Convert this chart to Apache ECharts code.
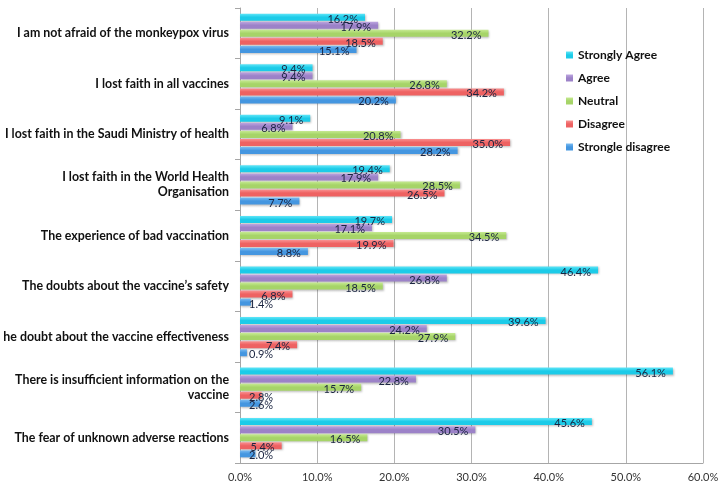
<!DOCTYPE html>
<html>
<head>
<meta charset="utf-8">
<script src="https://cdn.jsdelivr.net/npm/echarts@6/dist/echarts.min.js"></script>
<style>
html,body{margin:0;padding:0;background:#fff;}
#chart{width:725px;height:489px;}
</style>
</head>
<body>
<div id="chart"></div>
<script>
// Categories, bottom to top
const categories = [
  "The fear of unknown adverse reactions",
  "There is insufficient information on the\nvaccine",
  "he doubt about the vaccine effectiveness",
  "The doubts about the vaccine\u2019s safety",
  "The experience of bad vaccination",
  "I lost faith in the World Health\nOrganisation",
  "I lost faith in the Saudi Ministry of health",
  "I lost faith in all vaccines",
  "I am not afraid of the monkeypox virus"
];
const stronglyAgree   = [45.6, 56.1, 39.6, 46.4, 19.7, 19.4, 9.1, 9.4, 16.2];
const agree           = [30.5, 22.8, 24.2, 26.8, 17.1, 17.9, 6.8, 9.4, 17.9];
const neutral         = [16.5, 15.7, 27.9, 18.5, 34.5, 28.5, 20.8, 26.8, 32.2];
const disagree        = [5.4, 2.8, 7.4, 6.8, 19.9, 26.5, 35.0, 34.2, 18.5];
const strongDisagree  = [2.0, 2.6, 0.9, 1.4, 8.8, 7.7, 28.2, 20.2, 15.1];
const legendNames = ["Strongly Agree", "Agree", "Neutral", "Disagree", "Strongle disagree"];
const xTicks = [0, 10, 20, 30, 40, 50, 60];

const colors = {
  "Strongly Agree": ["#5FE6F8", "#1CCBE8"],
  "Agree": ["#BDA6E0", "#9C82C8"],
  "Neutral": ["#C6EA92", "#A6D468"],
  "Disagree": ["#F99292", "#EE6262"],
  "Strongle disagree": ["#7BBCF2", "#4496E0"]
};

function makeSeries(name, values) {
  const c = colors[name];
  return {
    name: name,
    type: 'bar',
    barWidth: 7,
    barGap: '15%',
    itemStyle: {
      color: new echarts.graphic.LinearGradient(0, 0, 0, 1, [
        {offset: 0, color: c[0]}, {offset: 0.5, color: c[1]}, {offset: 1, color: c[1]}
      ]),
      shadowColor: 'rgba(0,0,0,0.25)',
      shadowBlur: 2,
      shadowOffsetX: 1,
      shadowOffsetY: 1
    },
    data: values.map(v => {
      const small = v < 5;
      return {
        value: v,
        label: small ? {position: 'insideLeft', distance: 9} : {position: 'insideRight', distance: 7}
      };
    }),
    label: {
      show: true,
      formatter: p => p.value.toFixed(1) + '%',
      fontFamily: 'Lato',
      fontSize: 11,
      color: '#1A2440',
      offset: [0, 2]
    }
  };
}

const chart = echarts.init(document.getElementById('chart'));
chart.setOption({
  animation: false,
  backgroundColor: '#fff',
  grid: {left: 240, right: 22, top: 8, bottom: 26, containLabel: false},
  legend: {
    data: legendNames,
    orient: 'vertical',
    left: 561,
    top: 44,
    itemWidth: 7,
    itemHeight: 7,
    itemGap: 11,
    icon: 'rect',
    textStyle: {fontFamily: 'Lato', fontWeight: 'bold', fontSize: 12, color: '#111'}
  },
  xAxis: {
    type: 'value',
    min: 0,
    max: 60,
    interval: 10,
    axisLine: {show: true, lineStyle: {color: '#A6A6A6'}},
    axisTick: {show: false},
    splitLine: {show: true, lineStyle: {color: '#B4B4B4', width: 1}},
    axisLabel: {
      formatter: v => v.toFixed(1) + '%',
      fontFamily: 'Lato',
      fontSize: 11,
      color: '#333',
      margin: 9
    }
  },
  yAxis: {
    type: 'category',
    data: categories,
    axisLine: {show: true, lineStyle: {color: '#A6A6A6'}},
    axisTick: {show: true, length: 5, lineStyle: {color: '#A6A6A6'}},
    axisLabel: {
      fontFamily: 'Lato',
      fontWeight: 'bold',
      fontSize: 12.4,
      color: '#111',
      margin: 11,
      lineHeight: 15,
      align: 'right'
    }
  },
  series: [
    makeSeries("Strongly Agree", stronglyAgree),
    makeSeries("Agree", agree),
    makeSeries("Neutral", neutral),
    makeSeries("Disagree", disagree),
    makeSeries("Strongle disagree", strongDisagree)
  ]
});
</script>
</body>
</html>
